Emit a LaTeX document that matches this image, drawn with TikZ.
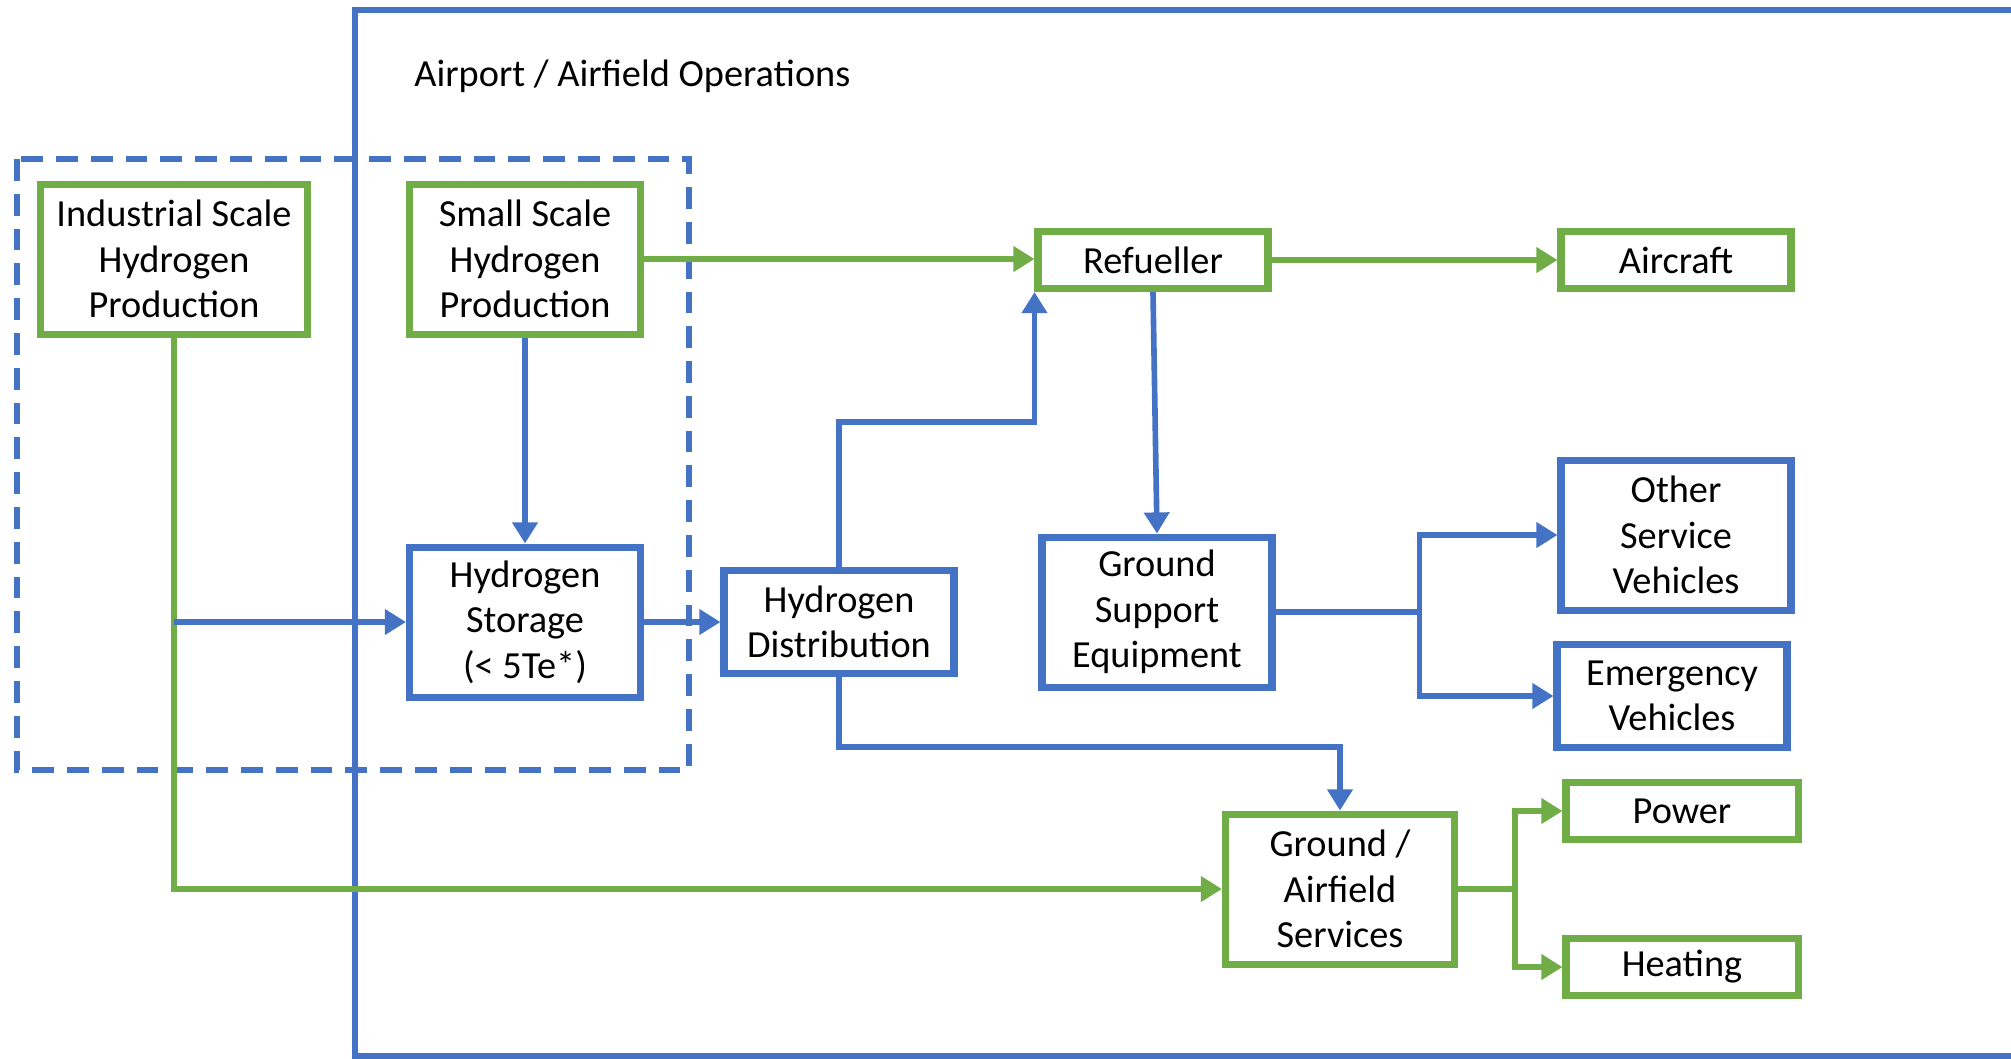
\documentclass[tikz,border=0pt]{standalone}
\usepackage{fontspec}
\setmainfont{Carlito}
\usetikzlibrary{arrows.meta}
\definecolor{hblue}{HTML}{4472C4}
\definecolor{hgreen}{HTML}{70AD47}
\begin{document}
\begin{tikzpicture}[scale=1.]
    		\newcommand{\boxwd}{2.30} % width of the boxes
    		\newcommand{\tallht}{1.50} % three lines of text
    		\newcommand{\midht}{1.03} % two lines of text
    		\newcommand{\lowht}{0.57} % one line of text

    		% set the style of the boxes and the lines
    		\tikzset{
    			box/.style={
    				draw,
    				line width=2pt,
    				minimum width=\boxwd cm,
    				inner sep=0pt,
    				align=center,
    				font=\fontsize{10.9}{12.9}\selectfont
    				},
    			gbox/.style={box, draw=hgreen},
    			bbox/.style={box, draw=hblue},
    			gline/.style={hgreen, line width=1.6pt, -{Triangle[length=6pt,width=7pt]}},
    			bline/.style={hblue, line width=1.6pt, -{Triangle[length=6pt,width=7pt]}}
    		}

    		\useasboundingbox (0,0) rectangle (20.11,-10.58);

    		% frames
    		\draw[hblue, line width=1.8pt] (20.3,-0.10) -- (3.55,-0.10) -- (3.55,-10.56) -- (20.3,-10.56);
    		\draw[hblue, line width=1.8pt, dash pattern=on 6.2pt off 3.7pt] (0.17,-1.59) rectangle (6.89,-7.70);
    		\node[anchor=west, font=\fontsize{10.9}{12.9}\selectfont] (title) at (4.02,-0.76) {Airport / Airfield Operations};

    		% production and storage
    		\node[gbox, minimum width=2.67cm, minimum height=\tallht cm] (ind) at (1.74,-2.59) {Industrial Scale\\Hydrogen\\Production};
    		\node[gbox, minimum width=2.31cm, minimum height=\tallht cm] (small) at (5.25,-2.59) {Small Scale\\Hydrogen\\Production};
    		\node[bbox, minimum width=2.31cm, minimum height=\tallht cm] (stor) at (5.25,-6.22) {Hydrogen\\Storage\\(< 5Te*)};
    		\node[bbox, minimum height=\midht cm] (dist) at (8.39,-6.22) {Hydrogen\\Distribution};

    		% users
    		\node[gbox, minimum height=\lowht cm] (refu) at (11.53,-2.60) {Refueller};
    		\node[gbox, minimum height=\lowht cm] (airc) at (16.76,-2.60) {Aircraft};
    		\node[bbox, minimum height=\tallht cm] (gse) at (11.57,-6.12) {Ground\\Support\\Equipment};
    		\node[bbox, minimum height=\tallht cm] (osv) at (16.76,-5.35) {Other\\Service\\Vehicles};
    		\node[bbox, minimum height=\midht cm] (emv) at (16.72,-6.96) {Emergency\\Vehicles};
    		\node[gbox, minimum width=2.29cm, minimum height=\tallht cm] (gas) at (13.40,-8.89) {Ground /\\Airfield\\Services};
    		\node[gbox, minimum width=2.32cm, minimum height=\lowht cm] (pow) at (16.82,-8.11) {Power};
    		\node[gbox, minimum width=2.32cm, minimum height=\lowht cm] (heat) at (16.82,-9.67) {Heating};

    		% green links
    		\draw[gline] (small.east) -- (refu.west |- small.east);
    		\draw[gline] (refu) -- (airc);
    		\draw[gline] (ind.south) |- (gas.west);
    		\draw[gline] (gas.east) -- ++(0.57,0) |- (pow.west);
    		\draw[gline] (gas.east) -- ++(0.57,0) |- (heat.west);

    		% blue links
    		\coordinate (split) at (ind.south |- stor.west);
    		\draw[bline] (split) -- (stor);
    		\draw[bline] (small) -- (stor);
    		\draw[bline] (stor) -- (dist);
    		\draw[bline] (dist.north) -- ++(0,1.45) -| (refu.south west);
    		\draw[bline] (refu.south) -- (gse.north);
    		\draw[bline] (dist.south) -- ++(0,-0.70) -| (gas.north);
    		\draw[bline] (gse.east) -- ++(1.44,0) |- (osv.west);
    		\draw[bline] (gse.east) -- ++(1.44,0) |- (emv.west);
		\end{tikzpicture}
\end{document}
